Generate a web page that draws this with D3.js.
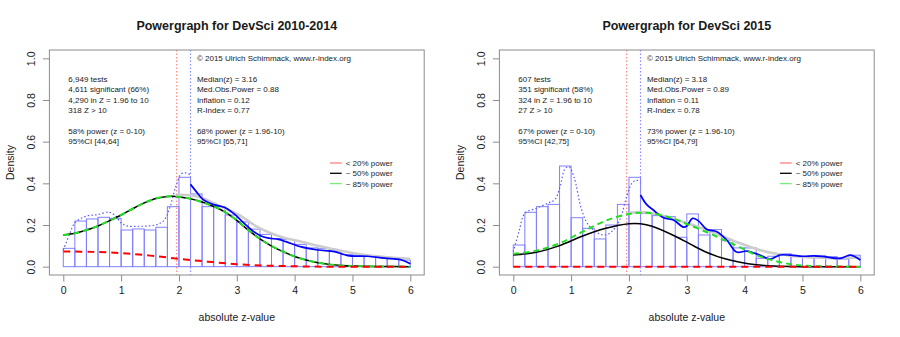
<!DOCTYPE html>
<html>
<head>
<meta charset="utf-8">
<script src="https://cdn.jsdelivr.net/npm/d3@7"></script>
<style>
body { margin: 0; background: #fff; }
svg text { font-family: "Liberation Sans", Arial, sans-serif; fill: #1a1a1a; }
</style>
</head>
<body>
<div id="chart"></div>
<script>
// axis ticks
var zTicks = [0, 1, 2, 3, 4, 5, 6];
var densTicks = [0, 0.2, 0.4, 0.6, 0.8, 1.0];
var binWidth = 0.2;

// ---- DevSci 2010-2014 ----
var hist2010 = [0.088, 0.219, 0.229, 0.237, 0.232, 0.176, 0.181, 0.176, 0.189, 0.288,
    0.429, 0.349, 0.288, 0.288, 0.248, 0.215, 0.18, 0.155, 0.135, 0.13,
    0.107, 0.09, 0.088, 0.075, 0.058, 0.056, 0.05, 0.045, 0.04, 0.032];
var obs2010 = [[0, 0.08], [0.1, 0.15], [0.2, 0.21], [0.4, 0.243], [0.6, 0.25], [0.78, 0.262],
    [0.9, 0.245], [1.0, 0.21], [1.1, 0.196], [1.3, 0.194], [1.5, 0.196], [1.65, 0.205],
    [1.75, 0.225], [1.85, 0.29], [1.94, 0.38], [2.04, 0.445], [2.12, 0.45], [2.2, 0.44]];
var kern2010 = [[2.2, 0.395], [2.3, 0.36], [2.42, 0.322], [2.6, 0.298], [2.8, 0.283], [2.97, 0.25],
    [3.1, 0.215], [3.26, 0.175], [3.4, 0.15], [3.55, 0.137], [3.72, 0.131], [3.85, 0.12],
    [4.1, 0.096], [4.4, 0.08], [4.69, 0.072], [4.92, 0.053], [5.26, 0.05], [5.55, 0.041],
    [5.84, 0.033], [6.0, 0.014]];
var fit2010 = [[1.96, 0.345], [2.2, 0.343], [2.4, 0.33], [2.6, 0.305], [2.8, 0.28], [3.06, 0.245],
    [3.3, 0.2], [3.55, 0.165], [3.8, 0.14], [4.12, 0.12], [4.4, 0.1], [4.69, 0.083],
    [5.0, 0.066], [5.26, 0.055], [5.6, 0.045], [6.0, 0.038]];
var p50_2010 = [[0, 0.152], [0.2, 0.16], [0.4, 0.176], [0.6, 0.195], [0.8, 0.221], [1.0, 0.248],
    [1.2, 0.278], [1.4, 0.306], [1.6, 0.327], [1.8, 0.337], [1.9, 0.338], [2.0, 0.335],
    [2.2, 0.326], [2.4, 0.31], [2.6, 0.289], [2.8, 0.262], [3.0, 0.222], [3.2, 0.175],
    [3.4, 0.133], [3.6, 0.099], [3.8, 0.072], [4.0, 0.049], [4.2, 0.032], [4.4, 0.019],
    [4.6, 0.011], [4.8, 0.006], [5.0, 0.003], [5.5, 0.001], [6.0, 0]];
var p85_2010 = p50_2010;
var p20_2010 = [[0, 0.073], [0.5, 0.071], [1.0, 0.065], [1.5, 0.053], [2.0, 0.038], [2.5, 0.024],
    [3.0, 0.012], [3.5, 0.005], [4.0, 0.002], [4.5, 0], [6.0, 0]];
var left2010 = ["6,949 tests", "4,611 significant (66%)", "4,290 in Z = 1.96 to 10", "318 Z > 10",
    "", "58% power (z = 0-10)", "95%CI [44,64]"];
var right2010 = ["Median(z) = 3.16", "Med.Obs.Power = 0.88", "Inflation = 0.12", "R-Index = 0.77",
    "", "68% power (z = 1.96-10)", "95%CI [65,71]"];

// ---- DevSci 2015 ----
var hist2015 = [0.104, 0.261, 0.288, 0.299, 0.483, 0.235, 0.184, 0.133, 0.2, 0.299,
    0.429, 0.255, 0.245, 0.24, 0.141, 0.253, 0.152, 0.178, 0.125, 0.09,
    0.09, 0.04, 0.05, 0.062, 0.048, 0.044, 0.054, 0.048, 0.036, 0.055];
var obs2015 = [[0, 0.072], [0.1, 0.17], [0.2, 0.256], [0.4, 0.28], [0.6, 0.305], [0.72, 0.322],
    [0.81, 0.384], [0.89, 0.468], [0.96, 0.48], [1.05, 0.43], [1.18, 0.275], [1.3, 0.2],
    [1.47, 0.16], [1.59, 0.152], [1.7, 0.168], [1.84, 0.224], [1.96, 0.336], [2.05, 0.4],
    [2.13, 0.415], [2.2, 0.405]];
var kern2015 = [[2.2, 0.344], [2.3, 0.3], [2.42, 0.272], [2.6, 0.235], [2.77, 0.224], [2.94, 0.19],
    [3.0, 0.195], [3.1, 0.232], [3.2, 0.22], [3.35, 0.178], [3.52, 0.168], [3.69, 0.128],
    [3.86, 0.07], [4.04, 0.075], [4.27, 0.055], [4.44, 0.036], [4.61, 0.056], [4.8, 0.055],
    [5.0, 0.05], [5.2, 0.052], [5.4, 0.047], [5.65, 0.04], [5.83, 0.055], [6.0, 0.032]];
var fit2015 = [[1.96, 0.255], [2.2, 0.262], [2.5, 0.252], [2.77, 0.229], [3.0, 0.21], [3.35, 0.176],
    [3.6, 0.148], [3.92, 0.112], [4.2, 0.085], [4.5, 0.064], [4.8, 0.052], [5.07, 0.045],
    [5.4, 0.042], [5.65, 0.04], [6.0, 0.045]];
var p50_2015 = [[0, 0.056], [0.4, 0.069], [0.8, 0.101], [1.2, 0.147], [1.6, 0.184], [2.0, 0.206],
    [2.2, 0.206], [2.4, 0.194], [2.8, 0.146], [3.06, 0.108], [3.35, 0.068], [3.63, 0.04],
    [3.92, 0.021], [4.2, 0.009], [4.5, 0.003], [5.0, 0], [6.0, 0]];
var p85_2015 = [[0, 0.061], [0.4, 0.077], [0.8, 0.112], [1.2, 0.168], [1.6, 0.221], [2.0, 0.253],
    [2.2, 0.259], [2.4, 0.256], [2.8, 0.228], [3.0, 0.205], [3.35, 0.165], [3.63, 0.13],
    [3.92, 0.093], [4.2, 0.056], [4.5, 0.029], [4.8, 0.012], [5.07, 0.004], [5.5, 0.001], [6.0, 0]];
var p20_2015 = [[0, 0], [6.0, 0]];
var left2015 = ["607 tests", "351 significant (58%)", "324 in Z = 1.96 to 10", "27 Z > 10",
    "", "67% power (z = 0-10)", "95%CI [42,75]"];
var right2015 = ["Median(z) = 3.18", "Med.Obs.Power = 0.89", "Inflation = 0.11", "R-Index = 0.78",
    "", "73% power (z = 1.96-10)", "95%CI [64,79]"];

var legendLabels = ["< 20% power", "~ 50% power", "~ 85% power"];
var legendColors = ["#ff7f7f", "#000000", "#77ee77"];

var panels = [
    { title: "Powergraph for DevSci 2010-2014", hist: hist2010, obs: obs2010, kern: kern2010,
      fit: fit2010, p50: p50_2010, p85: p85_2010, p20: p20_2010, left: left2010, right: right2010 },
    { title: "Powergraph for DevSci 2015", hist: hist2015, obs: obs2015, kern: kern2015,
      fit: fit2015, p50: p50_2015, p85: p85_2015, p20: p20_2015, left: left2015, right: right2015 }
];

var svg = d3.select("#chart").append("svg")
    .attr("width", 900)
    .attr("height", 337);

var margin = { top: 50, left: 49.4 },
    plotW = 374.8,
    plotH = 225;

// R style: 4% padding around the data range
var x = d3.scaleLinear().domain([-0.24, 6.24]).range([0, plotW]),
    y = d3.scaleLinear().domain([-0.04, 1.04]).range([plotH, 0]);

var line = d3.line()
    .x(function (d) { return x(d[0]); })
    .y(function (d) { return y(d[1]); })
    .curve(d3.curveCatmullRom.alpha(0.5));

function drawPanel(p, i) {
    var root = svg.append("g").attr("transform", "translate(" + (i * 450) + ",0)");
    var g = root.append("g").attr("transform", "translate(" + margin.left + "," + margin.top + ")");

    root.append("text")
        .attr("x", margin.left + plotW / 2)
        .attr("y", 30)
        .attr("text-anchor", "middle")
        .style("font-size", "12.5px")
        .style("font-weight", "bold")
        .text(p.title);

    // histogram
    g.selectAll("rect.bin")
        .data(p.hist)
        .enter().append("rect")
        .attr("class", "bin")
        .attr("x", function (d, k) { return x(k * binWidth); })
        .attr("width", x(binWidth) - x(0))
        .attr("y", function (d) { return y(d); })
        .attr("height", function (d) { return y(0) - y(d); })
        .attr("fill", "none")
        .attr("stroke", "#8080ff")
        .attr("stroke-width", 1);

    // significance criterion and median marker
    [[1.96, "#ff8c8c"], [2.2, "#8c8cff"]].forEach(function (v) {
        g.append("line")
            .attr("x1", x(v[0])).attr("x2", x(v[0]))
            .attr("y1", 0).attr("y2", plotH)
            .attr("stroke", v[1])
            .attr("stroke-width", 1.2)
            .attr("stroke-dasharray", "1.5,2");
    });

    g.append("path").datum(p.obs).attr("d", line)
        .attr("fill", "none").attr("stroke", "#5a5aff")
        .attr("stroke-width", 1.2).attr("stroke-dasharray", "1.5,2.2");

    g.append("path").datum(p.fit).attr("d", line)
        .attr("fill", "none").attr("stroke", "#cdcdcd").attr("stroke-width", 2.6);

    g.append("path").datum(p.kern).attr("d", line)
        .attr("fill", "none").attr("stroke", "#0000ff").attr("stroke-width", 1.7);

    g.append("path").datum(p.p50).attr("d", line)
        .attr("fill", "none").attr("stroke", "#000").attr("stroke-width", 1.5);

    g.append("path").datum(p.p85).attr("d", line)
        .attr("fill", "none").attr("stroke", "#22dd22")
        .attr("stroke-width", 2).attr("stroke-dasharray", "6,4");

    g.append("path").datum(p.p20).attr("d", line)
        .attr("fill", "none").attr("stroke", "#ff0000")
        .attr("stroke-width", 2).attr("stroke-dasharray", "7,5");

    // box
    g.append("rect")
        .attr("width", plotW).attr("height", plotH)
        .attr("fill", "none").attr("stroke", "#8c8c8c").attr("stroke-width", 1);

    // x axis
    var xa = g.append("g")
        .attr("transform", "translate(0," + plotH + ")")
        .call(d3.axisBottom(x).tickValues(zTicks).tickFormat(d3.format("d")).tickSize(6.5).tickPadding(5));
    xa.select(".domain").remove();

    // y axis, rotated labels as in base graphics
    var ya = g.append("g")
        .call(d3.axisLeft(y).tickValues(densTicks).tickFormat(d3.format(".1f")).tickSize(6.5));
    ya.select(".domain").remove();
    ya.selectAll(".tick text")
        .attr("x", 0).attr("dy", 0)
        .attr("text-anchor", "middle")
        .attr("transform", "translate(-14,0) rotate(-90)");

    [xa, ya].forEach(function (a) {
        a.selectAll(".tick line").attr("stroke", "#8c8c8c");
        a.selectAll(".tick text").style("font-size", "10.5px").style("font-family", null).attr("fill", "#1a1a1a");
    });

    root.append("text")
        .attr("x", margin.left + x(3.0))
        .attr("y", 321)
        .attr("text-anchor", "middle")
        .style("font-size", "10.5px")
        .text("absolute z-value");

    root.append("text")
        .attr("transform", "translate(14," + (margin.top + plotH / 2) + ") rotate(-90)")
        .attr("text-anchor", "middle")
        .style("font-size", "10.5px")
        .text("Density");

    // annotations
    var lh = 10.3;
    root.append("text")
        .attr("x", margin.left + x(2.31)).attr("y", 61)
        .style("font-size", "8px")
        .text("\u00a9 2015 Ulrich Schimmack, www.r-index.org");

    [[p.left, 0.087], [p.right, 2.31]].forEach(function (col) {
        root.selectAll(null)
            .data(col[0])
            .enter().append("text")
            .attr("x", margin.left + x(col[1]))
            .attr("y", function (d, k) { return 82 + k * lh; })
            .style("font-size", "8px")
            .text(function (d) { return d; });
    });

    // legend
    var lg = root.append("g").attr("transform", "translate(330,163)");
    legendLabels.forEach(function (lab, k) {
        lg.append("line")
            .attr("x1", 0).attr("x2", 11.7)
            .attr("y1", k * 10.3).attr("y2", k * 10.3)
            .attr("stroke", legendColors[k]).attr("stroke-width", 1.3);
        lg.append("text")
            .attr("x", 15.7).attr("y", k * 10.3 + 3)
            .style("font-size", "8px")
            .text(lab);
    });
}

panels.forEach(drawPanel);
</script>
</body>
</html>
